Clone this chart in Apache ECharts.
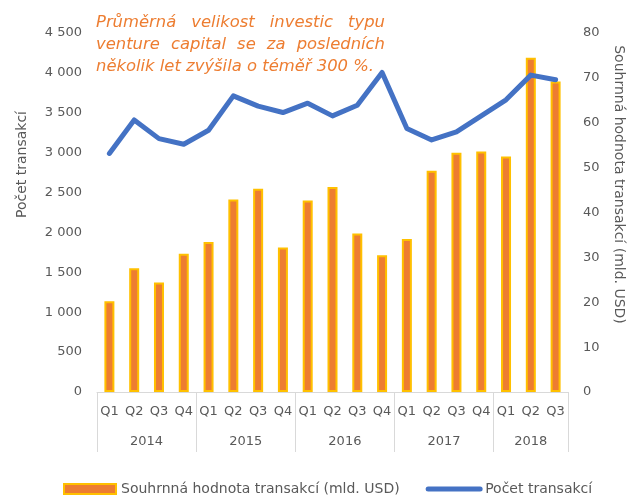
<!DOCTYPE html>
<html>
<head>
<meta charset="utf-8">
<script src="https://cdn.jsdelivr.net/npm/echarts@6/dist/echarts.min.js"></script>
<style>
html,body{margin:0;padding:0;background:#fff;}
#chart{width:636px;height:496px;}
</style>
</head>
<body>
<div id="chart"></div>
<script>
// ---- data ----
var quarters = ['Q1','Q2','Q3','Q4','Q1','Q2','Q3','Q4','Q1','Q2','Q3','Q4','Q1','Q2','Q3','Q4','Q1','Q2','Q3'];
var years = ['2014','2015','2016','2017','2018'];
var yearStarts = [0, 4, 8, 12, 16, 19];          // boundaries (in quarter units)
var yearCenters = [2, 6, 10, 14, 17.5];
var valueBn = [20.2, 27.6, 24.4, 30.8, 33.4, 42.9, 45.3, 32.2, 42.7, 45.7, 35.3, 30.5, 34.1, 49.3, 53.3, 53.6, 52.5, 74.5, 69.2];
var dealCount = [2990, 3410, 3176, 3105, 3281, 3712, 3583, 3503, 3620, 3461, 3595, 4006, 3302, 3159, 3260, 3461, 3662, 3972, 3913];
var leftTicks = {min: 0, max: 4500, interval: 500};
var rightTicks = {min: 0, max: 80, interval: 10};
var seriesNames = ['Souhrnná hodnota transakcí (mld. USD)', 'Počet transakcí'];
var axisNames = ['Počet transakcí', 'Souhrnná hodnota transakcí (mld. USD)'];
var titleLines = ['Průměrná velikost investic typu', 'venture capital se za posledních', 'několik let zvýšila o téměř 300 %.'];

// ---- chart ----
var FONT = 'DejaVu Sans';
var GRAY = '#595959';
var chart = echarts.init(document.getElementById('chart'), null, {renderer: 'canvas'});

function fmtThousands(v) {
  return String(v).replace(/\B(?=(\d{3})+(?!\d))/g, ' ');
}

// justified title words
var titleFont = 'italic 16.4px "' + FONT + '"';
var cnv = document.createElement('canvas').getContext('2d');
cnv.font = titleFont;
var titleLeft = 96, titleRight = 385, titleMid = [23, 45, 67];
var titleEls = [];
titleLines.forEach(function (line, li) {
  var words = line.split(' ');
  var widths = words.map(function (w) { return cnv.measureText(w).width; });
  var total = widths.reduce(function (a, b) { return a + b; }, 0);
  var gap = cnv.measureText(' ').width;
  if (li < titleLines.length - 1 && words.length > 1) {
    gap = (titleRight - titleLeft - total) / (words.length - 1);
  }
  var x = titleLeft;
  words.forEach(function (w, wi) {
    titleEls.push({
      type: 'text', x: x, y: titleMid[li],
      style: {text: w, fill: '#ED7D31', font: titleFont, verticalAlign: 'middle', align: 'left'}
    });
    x += widths[wi] + gap;
  });
});

var option = {
  animation: false,
  textStyle: {fontFamily: FONT},
  grid: {left: 97, right: 68, top: 33, bottom: 104, containLabel: false},
  legend: {
    left: 58, top: 477, itemGap: 26,
    itemWidth: 52, itemHeight: 10,
    textStyle: {color: GRAY, fontSize: 14, fontFamily: FONT},
    data: [
      {name: seriesNames[0], icon: 'rect', itemStyle: {color: '#ED7D31', borderColor: '#FFC000', borderWidth: 2}},
      {name: seriesNames[1], itemStyle: {opacity: 0}, lineStyle: {width: 5, color: '#4472C4'}}
    ]
  },
  xAxis: [
    {
      type: 'category', data: quarters, boundaryGap: true,
      axisLine: {show: true, lineStyle: {color: '#D9D9D9', width: 1}},
      axisTick: {show: false},
      axisLabel: {color: GRAY, fontSize: 13, margin: 13, interval: 0, fontFamily: FONT},
      splitLine: {show: false}
    },
    {
      type: 'value', position: 'bottom', min: 0, max: quarters.length,
      axisLine: {show: false},
      axisTick: {show: true, inside: false, length: 60, customValues: yearStarts, lineStyle: {color: '#D9D9D9', width: 1}},
      axisLabel: {show: true, color: GRAY, fontSize: 13, margin: 43, customValues: yearCenters, fontFamily: FONT,
        formatter: function (v) { var i = yearCenters.indexOf(v); return i >= 0 ? years[i] : ''; }},
      splitLine: {show: false}
    }
  ],
  yAxis: [
    {
      type: 'value', position: 'left', min: leftTicks.min, max: leftTicks.max, interval: leftTicks.interval,
      name: axisNames[0], nameLocation: 'middle', nameRotate: 90, nameGap: 68,
      nameTextStyle: {color: GRAY, fontSize: 14, fontFamily: FONT, padding: [0, 0, 0, 96]},
      axisLine: {show: false}, axisTick: {show: false}, splitLine: {show: false},
      axisLabel: {color: GRAY, fontSize: 13, margin: 15, fontFamily: FONT, formatter: fmtThousands}
    },
    {
      type: 'value', position: 'right', min: rightTicks.min, max: rightTicks.max, interval: rightTicks.interval,
      name: axisNames[1], nameLocation: 'middle', nameRotate: -90, nameGap: 44,
      nameTextStyle: {color: GRAY, fontSize: 14, fontFamily: FONT, padding: [0, 56, 0, 0]},
      axisLine: {show: false}, axisTick: {show: false}, splitLine: {show: false},
      axisLabel: {color: GRAY, fontSize: 13, margin: 15, fontFamily: FONT}
    }
  ],
  series: [
    {
      name: seriesNames[0], type: 'bar', xAxisIndex: 0, yAxisIndex: 1, data: valueBn,
      barWidth: 10,
      itemStyle: {color: '#ED7D31', borderColor: '#FFC000', borderWidth: 2}
    },
    {
      name: seriesNames[1], type: 'line', xAxisIndex: 0, yAxisIndex: 0, data: dealCount,
      showSymbol: false, symbol: 'none', smooth: false,
      lineStyle: {width: 5, color: '#4472C4', join: 'round', cap: 'round'},
      itemStyle: {color: '#4472C4'}
    }
  ],
  graphic: titleEls
};
chart.setOption(option);
</script>
</body>
</html>
